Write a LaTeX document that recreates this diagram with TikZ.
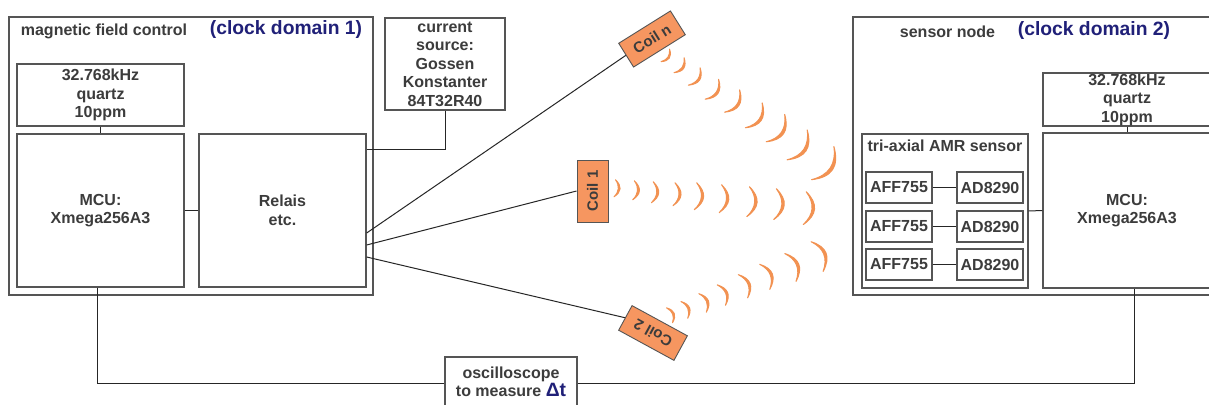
\documentclass[tikz,border=0pt]{standalone}
\usepackage{fontspec}
\setmainfont{Liberation Sans}
\usetikzlibrary{calc}
\definecolor{txt}{RGB}{60,60,60}
\definecolor{navy}{RGB}{32,32,120}
\definecolor{edge}{RGB}{85,85,85}
\definecolor{coilfill}{RGB}{246,150,96}
\definecolor{wavecol}{RGB}{242,146,82}
\newcommand\fs{\fontsize{16}{18.5}\selectfont\bfseries}
\newcommand\fbig{\fontsize{19.3}{22}\selectfont\bfseries}
\newcommand\fcoil{\fontsize{15}{17}\selectfont\bfseries}
% #1,#2: centre of arc (image px), #3: direction (deg, image y down), #4: chord
\newcommand\wv[4]{%
 \pgfmathsetmacro\wux{cos(#3)}%
 \pgfmathsetmacro\wuy{sin(#3)}%
 \pgfmathsetmacro\wh{#4/2}%
 \pgfmathsetmacro\ws{0.26*#4}%
 \pgfmathsetmacro\ww{0.9+0.05*#4}%
 \pgfmathsetmacro\wpx{#1+0.5*\ws*\wux}%
 \pgfmathsetmacro\wpy{#2+0.5*\ws*\wuy}%
 \pgfmathsetmacro\eax{\wpx-\ws*\wux+\wh*\wuy}%
 \pgfmathsetmacro\eay{\wpy-\ws*\wuy-\wh*\wux}%
 \pgfmathsetmacro\ebx{\wpx-\ws*\wux-\wh*\wuy}%
 \pgfmathsetmacro\eby{\wpy-\ws*\wuy+\wh*\wux}%
 \pgfmathsetmacro\qox{\wpx+(\ws+\ww)*\wux}%
 \pgfmathsetmacro\qoy{\wpy+(\ws+\ww)*\wuy}%
 \pgfmathsetmacro\qix{\wpx+(\ws-\ww)*\wux}%
 \pgfmathsetmacro\qiy{\wpy+(\ws-\ww)*\wuy}%
 \filldraw[wavestroke] (\eax,\eay)
   .. controls ({\eax+2/3*(\qox-\eax)},{\eay+2/3*(\qoy-\eay)}) and ({\ebx+2/3*(\qox-\ebx)},{\eby+2/3*(\qoy-\eby)}) .. (\ebx,\eby)
   .. controls ({\ebx+2/3*(\qix-\ebx)},{\eby+2/3*(\qiy-\eby)}) and ({\eax+2/3*(\qix-\eax)},{\eay+2/3*(\qiy-\eay)}) .. cycle;
}
\tikzset{
 box/.style={draw=edge, line width=1.3pt, text=txt, font=\fs, align=center, inner sep=0pt},
 outerbox/.style={draw=edge, line width=1.3pt, inner sep=0pt},
 title/.style={text=txt, font=\fs, inner sep=0pt},
 domlabel/.style={text=navy, font=\fbig, inner sep=0pt},
 coil/.style={draw=edge, line width=0.9pt, fill=coilfill, text=txt, font=\fcoil, inner sep=0pt},
 conn/.style={draw=black!85, line width=1pt},
 wavestroke/.style={fill=wavecol, draw=wavecol, line width=1pt, line join=round}
}
\begin{document}
\begin{tikzpicture}[x=1pt,y=-1pt]
\useasboundingbox (0,0) rectangle (1209,404);
\clip (0,0) rectangle (1209,404);
\fill[white] (0,0) rectangle (1209,404);

% left block
\node[outerbox, minimum width=364pt, minimum height=278pt] (lout) at (191,156) {};
\node[title] (ltitle) at (104,31) {magnetic field control};
\node[domlabel] (ldom) at (286,30) {(clock domain 1)};
\node[box, minimum width=167pt, minimum height=62pt] (lq) at (100.5,95) {32.768kHz\\quartz\\10ppm};
\node[box, minimum width=167pt, minimum height=153pt] (lmcu) at (100.5,210.5) {MCU:\\Xmega256A3};
\node[box, minimum width=167pt, minimum height=153pt] (relais) at (282.5,210.5) {Relais\\etc.};
\node[box, minimum width=120pt, minimum height=92pt] (cs) at (445,64) {current\\source:\\Gossen\\Konstanter\\84T32R40};

% right block
\node[outerbox, minimum width=366pt, minimum height=278pt] (rout) at (1036,156) {};
\node[title] (rtitle) at (947.5,32) {sensor node};
\node[domlabel] (rdom) at (1094,31) {(clock domain 2)};
\node[box, minimum width=168pt, minimum height=53pt] (rq) at (1127,99.5) {32.768kHz\\quartz\\10ppm};
\node[box, minimum width=168pt, minimum height=155pt] (rmcu) at (1127,210.5) {MCU:\\Xmega256A3};
\node[outerbox, minimum width=166pt, minimum height=154pt] (tri) at (945,211) {};
\node[title] (trititle) at (945,146) {tri-axial AMR sensor};
\foreach \i/\yy in {1/187.5,2/226.5,3/264.5}{
  \node[box, minimum width=66pt, minimum height=31pt] (aff\i) at (899,\yy) {AFF755};
  \node[box, minimum width=66pt, minimum height=31pt] (ad\i) at (990,\yy) {AD8290};
  \draw[conn] (aff\i.east) -- (ad\i.west);
}

% oscilloscope
\node[box, minimum width=132pt, minimum height=63pt] (osc) at (511,388.5) {};
\node[title, align=center] (osctext) at (511,382) {oscilloscope\\to measure \textcolor{navy}{\fbig Δt}};

% coils
\node[coil, minimum width=61pt, minimum height=28pt, rotate=32] (coiln) at (652,39) {Coil n};
\node[coil, minimum width=62pt, minimum height=31pt, rotate=90] (coil1) at (592.5,191) {Coil 1};
\node[coil, minimum width=63pt, minimum height=28pt, rotate=151.4] (coil2) at (653,333) {Coil 2};

% connectors
\draw[conn] (lq.south) -- (lmcu.north);
\draw[conn] (lmcu.east) -- (relais.west);
\draw[conn] (cs.south) |- ([yshift=61.5pt]relais.east);
\draw[conn] ([yshift=-22.5pt]relais.east) -- (coiln.west);
\draw[conn] ([yshift=-34.5pt]relais.east) -- (coil1.north);
\draw[conn] ([yshift=-46.5pt]relais.east) -- (coil2.east);
\draw[conn] (rq.south) -- (rmcu.north);
\draw[conn] (tri.east) -- (rmcu.west);
\draw[conn] ([xshift=-3.5pt]lmcu.south) |- ([yshift=5.5pt]osc.west);
\draw[conn] ([xshift=7pt]rmcu.south) |- ([yshift=5.5pt]osc.east);

% waves from coil 1
\foreach \x/\y/\c in {617/188.5/17,636/190.5/19,655/192.5/21,677/194.5/23,699/196.5/27,724/199/28,752/202/30,779/204.5/31,809/208.5/33}{\wv{\x}{\y}{5}{\c}}
% waves from coil 2
\foreach \x/\y/\c in {671.5/314.5/16,686.5/309/18,705/302/20,724/294/22,746/285/25,768/275.5/27,794/266/30,821/255/32}{\wv{\x}{\y}{-22}{\c}}
% waves from coil n
\foreach \x/\y/\c in {667/56.5/15,681/66.5/18,696.5/78/21,714.5/91/24,735/103/27,757/117.5/30,779/130.5/33,801/147.5/36,827/166/40}{\wv{\x}{\y}{34}{\c}}
\end{tikzpicture}
\end{document}
